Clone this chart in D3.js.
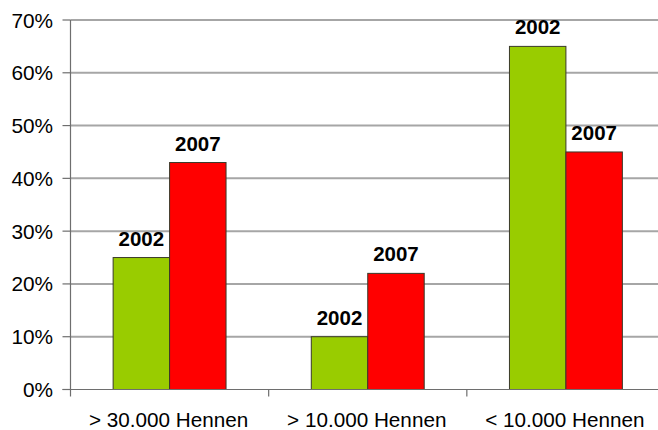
<!DOCTYPE html>
<html>
<head>
<meta charset="utf-8">
<script src="https://cdn.jsdelivr.net/npm/d3@7"></script>
<style>
  body { margin: 0; background: #fff; }
  text { font-family: Arial, "Liberation Sans", sans-serif; }
</style>
</head>
<body>
<div id="chart"></div>
<script>
// data
const categories = ["> 30.000 Hennen", "> 10.000 Hennen", "< 10.000 Hennen"];
const years = ["2002", "2007"];
const values2002 = [0.25, 0.10, 0.65];
const values2007 = [0.43, 0.22, 0.45];
const yTicks = [0, 0.1, 0.2, 0.3, 0.4, 0.5, 0.6, 0.7];

const colors = { "2002": "#99cc00", "2007": "#ff0000" };

const width = 658, height = 430;
const plotLeft = 70.5, plotRight = 665, plotTop = 20, plotBottom = 389.5;

// build rows for the grouped bars
const rows = categories.map((c, i) => ({
    cat: c,
    bars: [
        { year: "2002", value: values2002[i] },
        { year: "2007", value: values2007[i] }
    ]
}));

const svg = d3.select("#chart").append("svg")
    .attr("width", width)
    .attr("height", height);

const x = d3.scaleBand().domain(categories).range([plotLeft, plotRight]);
const x1 = d3.scaleBand().domain(years).range([0, x.bandwidth()])
    .paddingInner(0).paddingOuter(0.755);
const y = d3.scaleLinear().domain([0, 0.7]).range([plotBottom, plotTop]);

// gridlines
svg.append("g")
  .selectAll("line")
  .data(yTicks.filter(d => d > 0))
  .join("line")
    .attr("x1", plotLeft)
    .attr("x2", width)
    .attr("y1", d => y(d))
    .attr("y2", d => y(d))
    .attr("stroke", "#a6a6a6")
    .attr("stroke-width", 2);

// y tick marks + labels
const yAxis = svg.append("g");
yAxis.selectAll("line")
  .data(yTicks)
  .join("line")
    .attr("x1", plotLeft - 8)
    .attr("x2", plotLeft)
    .attr("y1", d => y(d))
    .attr("y2", d => y(d))
    .attr("stroke", "#6e6e6e")
    .attr("stroke-width", 1.2);
yAxis.selectAll("text")
  .data(yTicks)
  .join("text")
    .attr("x", 53)
    .attr("y", d => y(d) + 7.5)
    .attr("text-anchor", "end")
    .attr("font-size", 20.8)
    .attr("fill", "#000")
    .text(d => Math.round(d * 100) + "%");

// bars
const group = svg.append("g")
  .selectAll("g")
  .data(rows)
  .join("g")
    .attr("transform", d => `translate(${x(d.cat)},0)`);

group.selectAll("rect")
  .data(d => d.bars)
  .join("rect")
    .attr("x", d => x1(d.year))
    .attr("y", d => y(d.value))
    .attr("width", x1.bandwidth())
    .attr("height", d => y(0) - y(d.value))
    .attr("fill", d => colors[d.year])
    .attr("stroke", "#3a3a2a")
    .attr("stroke-width", 1);

// value labels (year above the bar)
group.selectAll("text")
  .data(d => d.bars)
  .join("text")
    .attr("x", d => x1(d.year) + x1.bandwidth() / 2)
    .attr("y", d => y(d.value) - 12)
    .attr("text-anchor", "middle")
    .attr("font-size", 20.5)
    .attr("font-weight", "bold")
    .attr("fill", "#000")
    .text(d => d.year);

// axes lines
svg.append("line")
    .attr("x1", plotLeft).attr("x2", plotLeft)
    .attr("y1", plotTop).attr("y2", plotBottom)
    .attr("stroke", "#6e6e6e")
    .attr("stroke-width", 1.2);
svg.append("line")
    .attr("x1", plotLeft - 8).attr("x2", width)
    .attr("y1", plotBottom).attr("y2", plotBottom)
    .attr("stroke", "#6e6e6e")
    .attr("stroke-width", 1.2);

// category ticks
svg.append("g")
  .selectAll("line")
  .data(categories)
  .join("line")
    .attr("x1", d => x(d))
    .attr("x2", d => x(d))
    .attr("y1", plotBottom)
    .attr("y2", plotBottom + 7)
    .attr("stroke", "#6e6e6e")
    .attr("stroke-width", 1.2);

// category labels
svg.append("g")
  .selectAll("text")
  .data(categories)
  .join("text")
    .attr("x", d => x(d) + x.bandwidth() / 2 - 1)
    .attr("y", 427)
    .attr("text-anchor", "middle")
    .attr("font-size", 20.7)
    .attr("fill", "#000")
    .text(d => d);
</script>
</body>
</html>
